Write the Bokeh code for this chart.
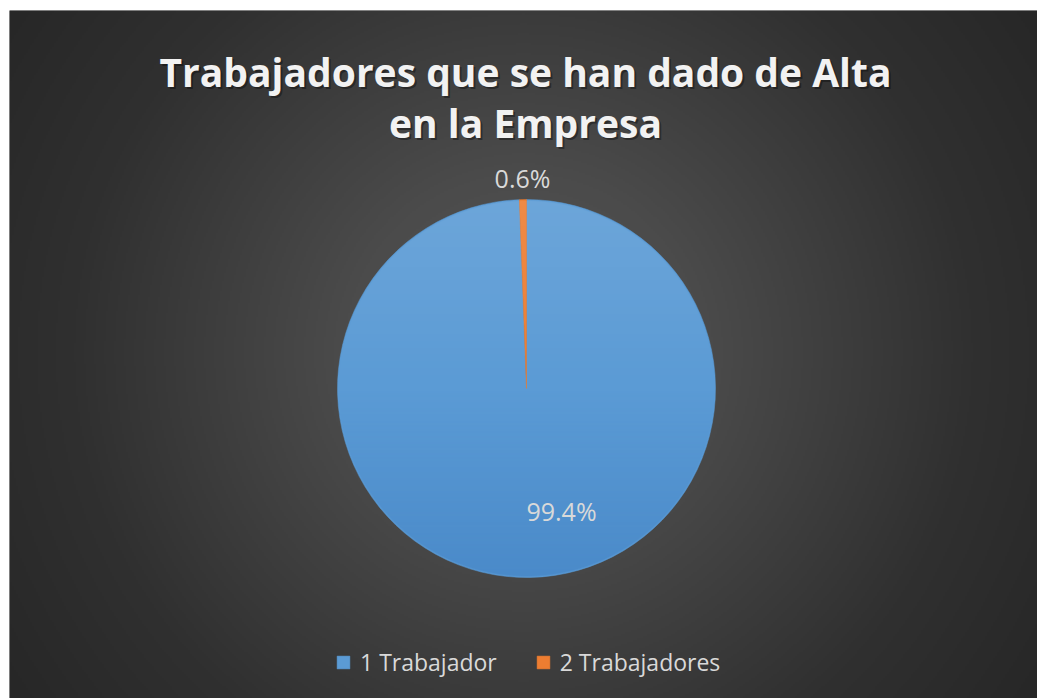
import numpy as np
from bokeh.plotting import figure
from bokeh.models import Range1d, Legend, LegendItem, ColumnDataSource
from bokeh.core.properties import value
from bokeh.embed import file_html
from bokeh.resources import INLINE

# ---- data ----
categories = ["1 Trabajador", "2 Trabajadores"]
shares = [99.4, 0.6]
pct_labels = ["99.4%", "0.6%"]
colors = ["#5b9bd5", "#ed7d31"]
title_lines = ["Trabajadores que se han dado de Alta", "en la Empresa"]

# ---- layout ----
W, H = 1028, 688
CX, CY, R = 517, 310, 189
label_x = [552, 513]
label_y = [188, 521]
title_x = [516, 516]
title_y = [627, 576]

p = figure(width=W, height=H, x_range=Range1d(0, W), y_range=Range1d(0, H),
           output_backend="svg", toolbar_location=None, min_border=0,
           x_axis_location=None, y_axis_location=None, margin=(10, 0, 0, 9))
p.grid.visible = False
p.outline_line_color = None
p.background_fill_color = "#3a3a3a"
p.border_fill_color = "#3a3a3a"


def to_rgba(r, g, b, a):
    ny, nx = r.shape
    img = np.empty((ny, nx), dtype=np.uint32)
    v = img.view(dtype=np.uint8).reshape((ny, nx, 4))
    v[:, :, 0] = r
    v[:, :, 1] = g
    v[:, :, 2] = b
    v[:, :, 3] = a
    return img


# radial background gradient (decoration)
nx, ny = 514, 344
X, Y = np.meshgrid(np.linspace(0, W, nx), np.linspace(0, H, ny))
d = np.hypot(X - 514, Y - 346)
lvl = np.interp(d, [0, 180, 450, 620, 900], [86, 75, 48, 39, 35]).astype(np.uint8)
p.image_rgba(image=[to_rgba(lvl, lvl, lvl, np.full_like(lvl, 255))],
             x=0, y=0, dw=W, dh=H)

# pie wedges (start at 12 o'clock, clockwise)
cum = np.cumsum([0] + shares) / sum(shares)
start = np.pi / 2 - cum[:-1] * 2 * np.pi
end = np.pi / 2 - cum[1:] * 2 * np.pi
src = ColumnDataSource(dict(cat=categories, start=start, end=end, color=colors))
wr = p.wedge(x=CX, y=CY, radius=R, radius_units="screen",
             start_angle="start", end_angle="end", direction="clock",
             fill_color="color", line_color="color", line_width=0.5, source=src)

# soft vertical shading over the pie (decoration: light top, deeper blue bottom)
n = 2 * R
sx, sy = np.meshgrid(np.arange(n) + 0.5 - R, np.arange(n) + 0.5 - R)
rad = np.hypot(sx, sy)
cover = np.clip(R - 0.5 - rad, 0, 1)
t = sy / R  # -1 bottom .. +1 top (image rows go bottom-up)
top = t > 0
alpha = np.where(top, t * 0.11, -t * 0.35) * cover
sr = np.where(top, 255, 42).astype(np.uint8)
sg = np.where(top, 255, 106).astype(np.uint8)
sb = np.where(top, 255, 179).astype(np.uint8)
p.image_rgba(image=[to_rgba(sr, sg, sb, (alpha * 255).astype(np.uint8))],
             x=CX - R, y=CY - R, dw=n, dh=n)

# data labels
lsrc = ColumnDataSource(dict(x=label_x, y=label_y, t=pct_labels))
p.text(x="x", y="y", text="t", source=lsrc, text_align="center",
       text_baseline="middle", text_font=value("Open Sans"),
       text_font_size="25px", text_color="#d9d9d9")

# title with subtle shadow
tsrc = ColumnDataSource(dict(x=title_x, y=title_y, t=title_lines))
p.text(x="x", y="y", text="t", source=tsrc, x_offset=2, y_offset=2,
       text_align="center", text_baseline="alphabetic",
       text_font=value("Open Sans"), text_font_style="bold",
       text_font_size="39px", text_color="#000000", text_alpha=0.35)
p.text(x="x", y="y", text="t", source=tsrc, text_align="center",
       text_baseline="alphabetic", text_font=value("Open Sans"),
       text_font_style="bold", text_font_size="39px", text_color="#f2f2f2")

legend = Legend(items=[LegendItem(label=c, renderers=[wr], index=i)
                       for i, c in enumerate(categories)],
                location=(326, 20), orientation="horizontal",
                glyph_width=16, glyph_height=16, label_standoff=9, spacing=38,
                padding=0, margin=0, background_fill_alpha=0,
                border_line_color=None, label_text_color="#d9d9d9",
                label_text_font="Open Sans", label_text_font_size="23px")
p.add_layout(legend)

open("out.html", "w").write(file_html(p, INLINE))
